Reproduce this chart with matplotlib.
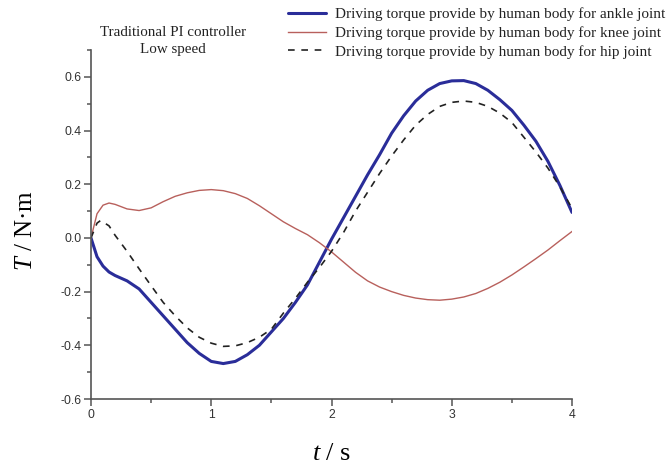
import matplotlib
matplotlib.use("Agg")
import matplotlib.pyplot as plt
from matplotlib.ticker import MultipleLocator

t_ankle = [0, 0.05, 0.1, 0.15, 0.2, 0.3, 0.4, 0.5, 0.6, 0.7, 0.8, 0.9, 1.0, 1.1, 1.2, 1.3, 1.4, 1.5,
           1.6, 1.7, 1.8, 1.9, 2.0, 2.1, 2.2, 2.3, 2.4, 2.5, 2.6, 2.7, 2.8, 2.9, 3.0, 3.1, 3.2, 3.3,
           3.4, 3.5, 3.6, 3.7, 3.8, 3.9, 4.0]
T_ankle = [0, -0.07, -0.105, -0.127, -0.14, -0.16, -0.19, -0.24, -0.29, -0.34, -0.39, -0.43, -0.46,
           -0.468, -0.46, -0.435, -0.40, -0.35, -0.30, -0.24, -0.175, -0.09, -0.005, 0.075, 0.155,
           0.235, 0.31, 0.39, 0.455, 0.51, 0.55, 0.575, 0.585, 0.586, 0.575, 0.55, 0.515, 0.475,
           0.42, 0.36, 0.285, 0.195, 0.095]

t_knee = [0, 0.05, 0.1, 0.15, 0.2, 0.3, 0.4, 0.5, 0.6, 0.7, 0.8, 0.9, 1.0, 1.1, 1.2, 1.3, 1.4, 1.5,
          1.6, 1.7, 1.8, 1.9, 2.0, 2.1, 2.2, 2.3, 2.4, 2.5, 2.6, 2.7, 2.8, 2.9, 3.0, 3.1, 3.2, 3.3,
          3.4, 3.5, 3.6, 3.7, 3.8, 3.9, 4.0]
T_knee = [0, 0.09, 0.122, 0.13, 0.125, 0.108, 0.102, 0.112, 0.135, 0.155, 0.168, 0.177, 0.18,
          0.176, 0.165, 0.147, 0.12, 0.09, 0.06, 0.035, 0.012, -0.018, -0.052, -0.09, -0.128,
          -0.16, -0.183, -0.2, -0.214, -0.224, -0.23, -0.232, -0.228, -0.22, -0.207, -0.188,
          -0.165, -0.138, -0.108, -0.077, -0.045, -0.01, 0.024]

t_hip = [0, 0.05, 0.08, 0.15, 0.2, 0.3, 0.4, 0.5, 0.6, 0.7, 0.8, 0.9, 1.0, 1.1, 1.2, 1.3, 1.4, 1.5,
         1.6, 1.7, 1.8, 1.9, 2.0, 2.1, 2.2, 2.3, 2.4, 2.5, 2.6, 2.7, 2.8, 2.9, 3.0, 3.1, 3.2, 3.3,
         3.4, 3.5, 3.6, 3.7, 3.8, 3.9, 4.0]
T_hip = [0, 0.055, 0.065, 0.045, 0.01, -0.05, -0.115, -0.178, -0.24, -0.29, -0.335, -0.37, -0.392,
         -0.404, -0.402, -0.39, -0.37, -0.34, -0.28, -0.225, -0.165, -0.11, -0.05, 0.02, 0.1,
         0.17, 0.24, 0.305, 0.365, 0.42, 0.46, 0.49, 0.505, 0.51, 0.505, 0.49, 0.465, 0.43,
         0.375, 0.32, 0.26, 0.19, 0.11]

labels = ["Driving torque provide by human body for ankle joint",
          "Driving torque provide by human body for knee joint",
          "Driving torque provide by human body for hip joint"]

serif = "Liberation Serif"
sans = "Liberation Sans"
plt.rcParams["mathtext.fontset"] = "custom"
plt.rcParams["mathtext.rm"] = "Liberation Serif"
plt.rcParams["mathtext.it"] = "Liberation Serif:italic"

fig = plt.figure(figsize=(6.67, 4.67), dpi=100)
ax = fig.add_axes([91/667, 1 - 399/467, (572-91)/667, (399-50)/467])

l1, = ax.plot(t_ankle, T_ankle, color="#2a2d99", lw=2.2, solid_capstyle="round",
              solid_joinstyle="round")
l2, = ax.plot(t_knee, T_knee, color="#b8605c", lw=1.0)
l3, = ax.plot(t_hip, T_hip, color="#222222", lw=1.2, dashes=(4, 4))

ax.set_xlim(0, 4)
ax.set_ylim(-0.6, 0.7)
ax.xaxis.set_major_locator(MultipleLocator(1))
ax.xaxis.set_minor_locator(MultipleLocator(0.5))
ax.yaxis.set_minor_locator(MultipleLocator(0.1))
ax.set_yticks([-0.6, -0.4, -0.2, 0.0, 0.2, 0.4, 0.6])
ax.set_yticklabels(["-0.6", "-0.4", "-0.2", "0.0", "0.2", "0.4", "0.6"])

for s in ["top", "right"]:
    ax.spines[s].set_visible(False)
for s in ["left", "bottom"]:
    ax.spines[s].set_color("#555555")
    ax.spines[s].set_linewidth(1.2)

ax.tick_params(which="both", direction="out", color="#555555", width=1.1)
ax.tick_params(which="major", length=5, labelsize=8.8, labelcolor="#333333", pad=2)
ax.tick_params(which="minor", length=3)
for lab in ax.get_xticklabels() + ax.get_yticklabels():
    lab.set_fontfamily(sans)

ax.set_xlabel("$t$ / s", fontfamily=serif, fontsize=19)
ax.xaxis.set_label_coords(0.5, -0.125)
ax.set_ylabel("$T$ / N·m", fontfamily=serif, fontsize=18)
ax.yaxis.set_label_coords(-0.112, 0.484)

fig.text(173/667, 1 - 33/467, "Traditional PI controller", fontfamily=serif, fontsize=10.8,
         ha="center", va="center", color="#222222")
fig.text(173/667, 1 - 50/467, "Low speed", fontfamily=serif, fontsize=10.8,
         ha="center", va="center", color="#222222")

leg = fig.legend([l1, l2, l3], labels, loc="upper right", bbox_to_anchor=(1.018, 1.013),
                 frameon=False, prop={"family": serif, "size": 11}, handlelength=2.45,
                 handletextpad=0.6, labelspacing=0.32)
for txt in leg.get_texts():
    txt.set_color("#222222")

fig.savefig("out.png", dpi=100)
